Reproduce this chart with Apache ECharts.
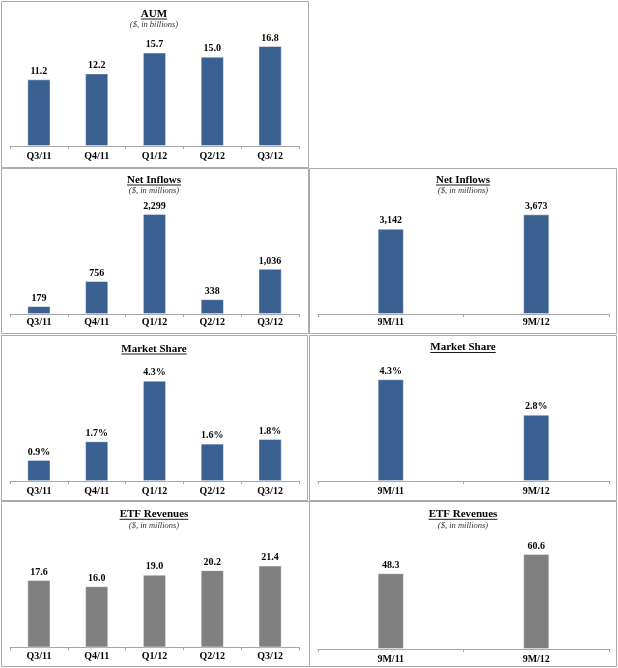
<!DOCTYPE html>
<html>
<head>
<meta charset="utf-8">
<script src="https://cdn.jsdelivr.net/npm/echarts@6/dist/echarts.min.js"></script>
<style>
html,body{margin:0;padding:0;background:#fff;}
#c{width:618px;height:668px;}
</style>
</head>
<body>
<div id="c"></div>
<script>
// ---- data ----
const quarters = ['Q3/11', 'Q4/11', 'Q1/12', 'Q2/12', 'Q3/12'];
const nineMonths = ['9M/11', '9M/12'];
const aumValues = [11.2, 12.2, 15.7, 15.0, 16.8];
const netInflowsQ = [179, 756, 2299, 338, 1036];
const netInflows9M = [3142, 3673];
const marketShareQ = [0.9, 1.7, 4.3, 1.6, 1.8];
const marketShare9M = [4.3, 2.8];
const etfRevenuesQ = [17.6, 16.0, 19.0, 20.2, 21.4];
const etfRevenues9M = [48.3, 60.6];

const BLUE = '#3A5F91';
const GRAY = '#808080';
const SERIF = '"Liberation Serif", "Times New Roman", serif';

const fmt1 = v => v.toFixed(1);
const fmtComma = v => v.toLocaleString('en-US');
const fmtPct = v => v.toFixed(1) + '%';

// panel layout (pixels)
const panels = [
  {title: 'AUM', sub: '($, in billions)', cats: quarters, data: aumValues, fmt: fmt1, color: BLUE,
   max: 18, left: 10, width: 289, axisY: 146, top: 39, titleX: 154, titleY: 14, subY: 25, bw: 23, margin: 5},
  {title: 'Net Inflows', sub: '($, in millions)', cats: quarters, data: netInflowsQ, fmt: fmtComma, color: BLUE,
   max: 2500, left: 10, width: 289, axisY: 314, top: 205.3, titleX: 154, titleY: 180, subY: 191, bw: 23, margin: 3},
  {title: 'Net Inflows', sub: '($, in millions)', cats: nineMonths, data: netInflows9M, fmt: fmtComma, color: BLUE,
   max: 4000, left: 318, width: 291, axisY: 314, top: 205.6, titleX: 463, titleY: 180, subY: 191, bw: 26, margin: 3},
  {title: 'Market Share', sub: null, cats: quarters, data: marketShareQ, fmt: fmtPct, color: BLUE,
   max: 5, left: 10, width: 289, axisY: 481, top: 364.5, titleX: 154, titleY: 349, bw: 23, margin: 5},
  {title: 'Market Share', sub: null, cats: nineMonths, data: marketShare9M, fmt: fmtPct, color: BLUE,
   max: 5, left: 318, width: 291, axisY: 481, top: 362.8, titleX: 463, titleY: 347.5, bw: 26, margin: 5},
  {title: 'ETF Revenues', sub: '($, in millions)', cats: quarters, data: etfRevenuesQ, fmt: fmt1, color: GRAY,
   max: 30, left: 10, width: 289, axisY: 647.3, top: 532.9, titleX: 154, titleY: 514.3, subY: 525.5, bw: 23, margin: 4.5},
  {title: 'ETF Revenues', sub: '($, in millions)', cats: nineMonths, data: etfRevenues9M, fmt: fmt1, color: GRAY,
   max: 70, left: 318, width: 291, axisY: 649, top: 539.3, titleX: 463, titleY: 514.3, subY: 525.7, bw: 26, margin: 5}
];

const measure = (() => {
  const ctx = document.createElement('canvas').getContext('2d');
  return (txt, font) => { ctx.font = font; return ctx.measureText(txt).width; };
})();

const grids = [], xAxes = [], yAxes = [], series = [], graphics = [];

// panel borders
const borderStyle = {stroke: '#ABABAB', lineWidth: 1, fill: null};
const boxes = [
  [1.5, 1.5, 307, 166],
  [1.5, 168.5, 307, 165], [309.5, 168.5, 307, 165],
  [1.5, 335.5, 306, 165], [309.5, 335.5, 307, 165],
  [1.5, 501.5, 308, 165], [309.5, 501.5, 307, 165]
];
boxes.forEach(b => graphics.push({type: 'rect', shape: {x: b[0], y: b[1], width: b[2], height: b[3]}, style: borderStyle, silent: true, z: 0}));

panels.forEach((p, i) => {
  grids.push({left: p.left, width: p.width, top: p.top, height: p.axisY - p.top, containLabel: false});
  xAxes.push({
    type: 'category', gridIndex: i, data: p.cats,
    axisLine: {lineStyle: {color: '#A6A6A6', width: 1}},
    axisTick: {show: true, length: 3, lineStyle: {color: '#A6A6A6'}},
    axisLabel: {color: '#000', fontFamily: SERIF, fontWeight: 'bold', fontSize: 10, margin: p.margin, interval: 0}
  });
  yAxes.push({type: 'value', gridIndex: i, min: 0, max: p.max, show: false, splitLine: {show: false}});
  series.push({
    type: 'bar', xAxisIndex: i, yAxisIndex: i, data: p.data, barWidth: p.bw,
    itemStyle: {color: p.color, borderColor: 'rgba(255,255,255,0.55)', borderWidth: 0.8},
    label: {show: true, position: 'top', distance: 3, color: '#000', fontFamily: SERIF, fontWeight: 'bold', fontSize: 10,
            formatter: d => p.fmt(d.value)},
    silent: true, animation: false
  });
  // title with underline
  const tf = 'bold 11px ' + SERIF;
  const w = measure(p.title, tf);
  graphics.push({type: 'text', x: p.titleX, y: p.titleY, style: {text: p.title, font: tf, fill: '#000', align: 'center', verticalAlign: 'middle'}, z: 5});
  graphics.push({type: 'line', shape: {x1: p.titleX - w / 2, y1: p.titleY + 5, x2: p.titleX + w / 2, y2: p.titleY + 5}, style: {stroke: '#000', lineWidth: 0.9}, z: 5});
  if (p.sub) {
    graphics.push({type: 'text', x: p.titleX, y: p.subY, style: {text: p.sub, font: 'italic 8.5px ' + SERIF, fill: '#333', align: 'center', verticalAlign: 'middle'}, z: 5});
  }
});

const chart = echarts.init(document.getElementById('c'), null, {renderer: 'canvas'});
chart.setOption({
  backgroundColor: '#fff',
  animation: false,
  grid: grids, xAxis: xAxes, yAxis: yAxes, series: series,
  graphic: graphics
});
</script>
</body>
</html>
